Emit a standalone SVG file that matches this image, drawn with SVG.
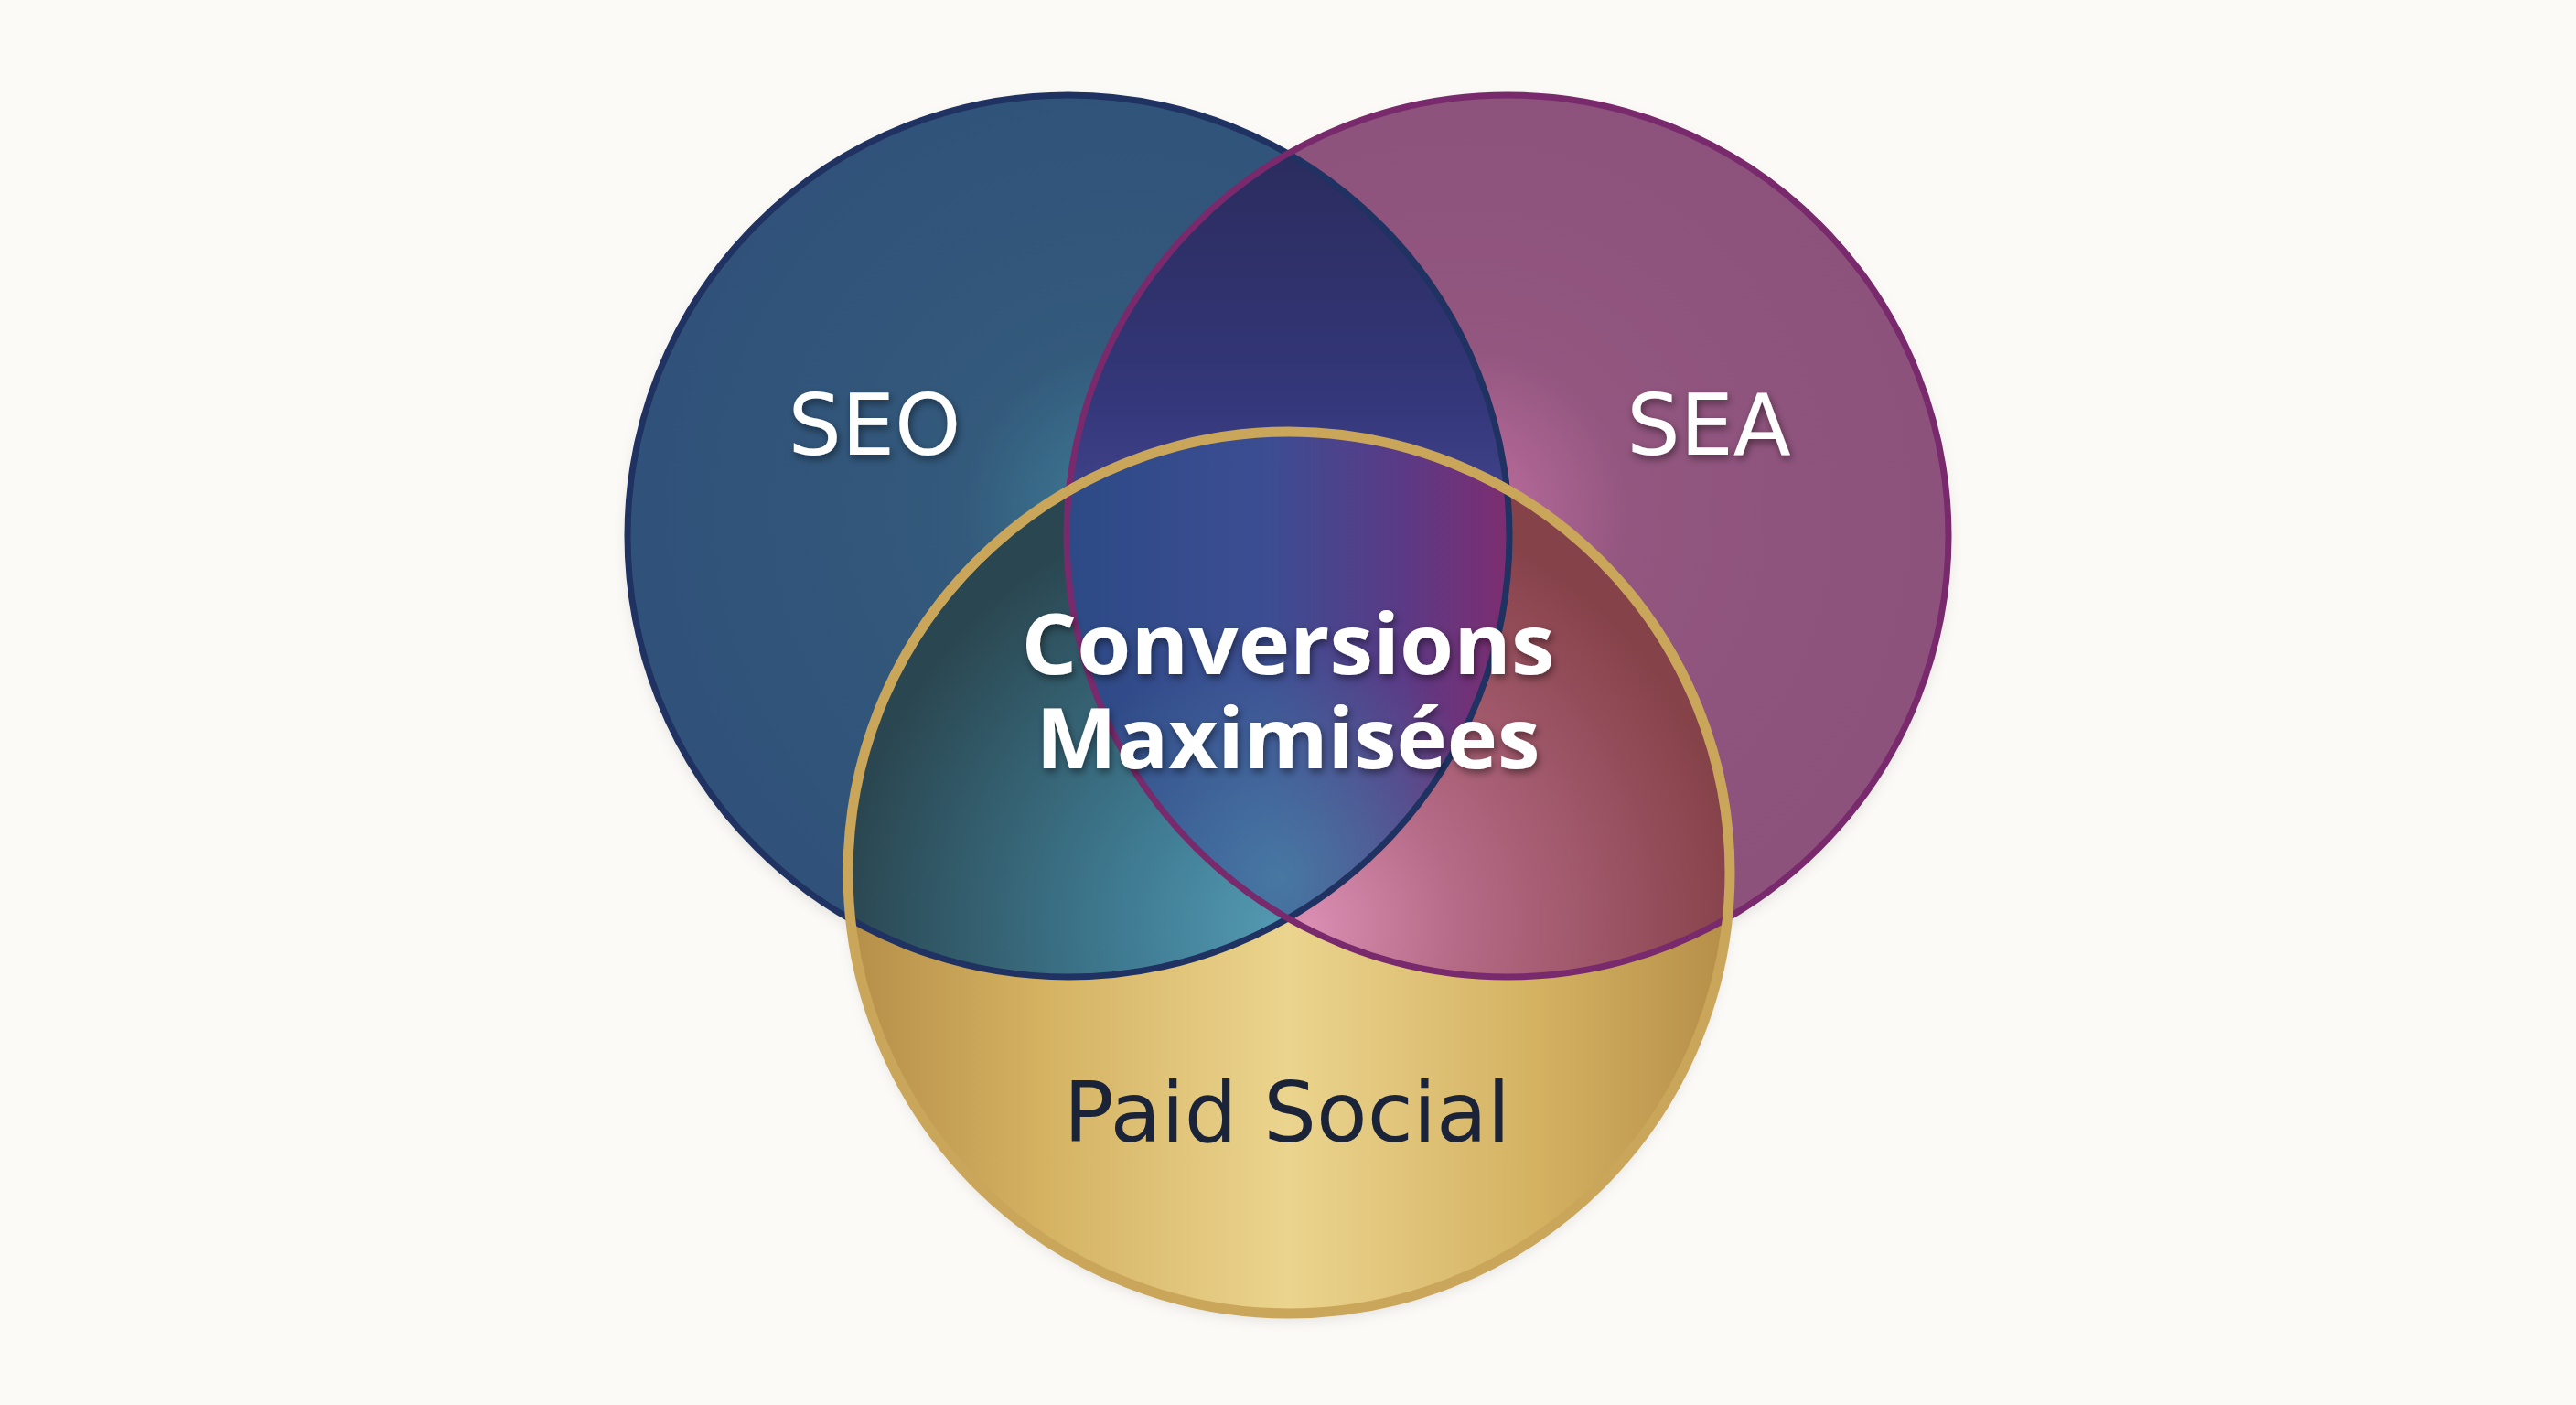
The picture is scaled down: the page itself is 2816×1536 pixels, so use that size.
<svg xmlns="http://www.w3.org/2000/svg" width="2816" height="1536" viewBox="0 0 2816 1536">
<defs>
<style>
.lbl{text-anchor:middle}
.reg{font-family:"DejaVu Sans","Open Sans",sans-serif;font-weight:400}
.w{fill:#ffffff}
.big{font-family:"Open Sans","Liberation Sans",sans-serif;font-weight:700;font-size:92px}
</style>
<clipPath id="cSEO"><circle cx="1168" cy="586" r="482"/></clipPath>
<clipPath id="cSEA"><circle cx="1648" cy="586" r="482"/></clipPath>
<clipPath id="cPS"><circle cx="1409" cy="954" r="482"/></clipPath>
<radialGradient id="gSEO" gradientUnits="userSpaceOnUse" cx="1230" cy="560" r="520">
<stop offset="0" stop-color="#3f7d97"/><stop offset="0.35" stop-color="#33597b"/><stop offset="1" stop-color="#30527a"/>
</radialGradient>
<radialGradient id="gSEA" gradientUnits="userSpaceOnUse" cx="1600" cy="560" r="520">
<stop offset="0" stop-color="#c06fa0"/><stop offset="0.35" stop-color="#92567f"/><stop offset="1" stop-color="#8c527c"/>
</radialGradient>
<linearGradient id="gTop" gradientUnits="userSpaceOnUse" x1="0" y1="170" x2="0" y2="620">
<stop offset="0" stop-color="#2b2c5e"/><stop offset="0.6" stop-color="#34377a"/><stop offset="1" stop-color="#4a4b96"/>
</linearGradient>
<linearGradient id="gPS" gradientUnits="userSpaceOnUse" x1="927" y1="0" x2="1891" y2="0">
<stop offset="0" stop-color="#b58e48"/><stop offset="0.22" stop-color="#d4b262"/><stop offset="0.5" stop-color="#ebd48e"/><stop offset="0.78" stop-color="#d4b262"/><stop offset="1" stop-color="#b58e48"/>
</linearGradient>
<radialGradient id="gSP" gradientUnits="userSpaceOnUse" cx="1390" cy="1010" r="470">
<stop offset="0" stop-color="#5298b0"/><stop offset="0.35" stop-color="#3f7b92"/><stop offset="1" stop-color="#2a4650"/>
</radialGradient>
<radialGradient id="gAP" gradientUnits="userSpaceOnUse" cx="1430" cy="1010" r="470">
<stop offset="0" stop-color="#d98eb2"/><stop offset="0.35" stop-color="#b56a86"/><stop offset="1" stop-color="#864249"/>
</radialGradient>
<linearGradient id="gAll" gradientUnits="userSpaceOnUse" x1="1170" y1="0" x2="1650" y2="0">
<stop offset="0" stop-color="#2d4a86"/><stop offset="0.45" stop-color="#3c4d92"/><stop offset="0.75" stop-color="#5a3a86"/><stop offset="1" stop-color="#7e2d70"/>
</linearGradient>
<radialGradient id="gAllGlow" gradientUnits="userSpaceOnUse" cx="1400" cy="960" r="260">
<stop offset="0" stop-color="#4a86a8" stop-opacity="0.75"/><stop offset="1" stop-color="#4a86a8" stop-opacity="0"/>
</radialGradient>
<filter id="sh" x="-10%" y="-30%" width="120%" height="160%">
<feDropShadow dx="2" dy="4" stdDeviation="4" flood-color="#000000" flood-opacity="0.45"/>
</filter>
<filter id="csh" x="-10%" y="-10%" width="120%" height="120%">
<feDropShadow dx="0" dy="6" stdDeviation="8" flood-color="#000000" flood-opacity="0.12"/>
</filter>
</defs>
<rect width="2816" height="1536" fill="#fbfaf7"/>
<g id="shadows" filter="url(#csh)">
<circle cx="1168" cy="586" r="482" fill="#fbfaf7"/>
<circle cx="1648" cy="586" r="482" fill="#fbfaf7"/>
<circle cx="1409" cy="954" r="482" fill="#fbfaf7"/>
</g>
<g id="seo">
<circle cx="1168" cy="586" r="482" fill="url(#gSEO)"/>
</g>
<g id="sea">
<circle cx="1648" cy="586" r="482" fill="url(#gSEA)"/>
</g>
<g id="seo-sea" clip-path="url(#cSEO)">
<circle cx="1648" cy="586" r="482" fill="url(#gTop)"/>
</g>
<g id="paid-social">
<circle cx="1409" cy="954" r="482" fill="url(#gPS)"/>
</g>
<g id="seo-paid" clip-path="url(#cSEO)">
<circle cx="1409" cy="954" r="482" fill="url(#gSP)"/>
</g>
<g id="sea-paid" clip-path="url(#cSEA)">
<circle cx="1409" cy="954" r="482" fill="url(#gAP)"/>
</g>
<g id="all-three" clip-path="url(#cSEO)">
<g clip-path="url(#cSEA)">
<circle cx="1409" cy="954" r="482" fill="url(#gAll)"/>
<circle cx="1409" cy="954" r="482" fill="url(#gAllGlow)"/>
</g>
</g>
<g id="outlines" fill="none">
<circle cx="1168" cy="586" r="482" stroke="#1f3262" stroke-width="7"/>
<circle cx="1648" cy="586" r="482" stroke="#782a6c" stroke-width="7"/>
<circle cx="1409" cy="954" r="482" stroke="#c9a65a" stroke-width="11"/>
</g>
<g id="labels">
<text class="lbl reg w" x="956" y="497" font-size="92" filter="url(#sh)">SEO</text>
<text class="lbl reg w" x="1868" y="497" font-size="92" filter="url(#sh)">SEA</text>
<text class="lbl w big" x="1408" y="737" textLength="583" lengthAdjust="spacingAndGlyphs" filter="url(#sh)">Conversions</text>
<text class="lbl w big" x="1408" y="840" textLength="551" lengthAdjust="spacingAndGlyphs" filter="url(#sh)">Maximisées</text>
<text class="lbl reg" x="1407" y="1248" font-size="91" fill="#1b2338">Paid Social</text>
</g>
</svg>
